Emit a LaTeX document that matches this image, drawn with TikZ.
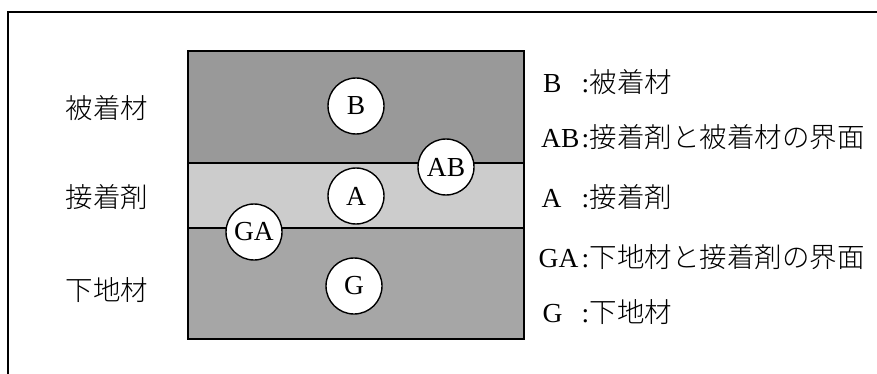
\documentclass[tikz,border=0pt]{standalone}
\usepackage{fontspec}
\setmainfont{Liberation Serif}
\newfontfamily\jp{Noto Sans CJK JP Light}
\definecolor{adherendgray}{HTML}{999999}
\definecolor{adhesivegray}{HTML}{CCCCCC}
\definecolor{substrategray}{HTML}{A6A6A6}
\begin{document}
\begin{tikzpicture}[x=1pt,y=-1pt,
  marker/.style={circle, draw, fill=white, line width=1.4pt, minimum size=56pt,
    inner sep=0pt, font=\fontsize{27.5}{27.5}\selectfont},
  side/.style={inner sep=0pt, font=\jp\fontsize{27.5}{27.5}\selectfont},
  key/.style={anchor=base west, inner sep=0pt, font=\fontsize{27.5}{27.5}\selectfont},
  desc/.style={anchor=base west, inner sep=0pt, font=\fontsize{27.5}{27.5}\selectfont},
  edge/.style={line width=1.3pt}]
\useasboundingbox (0,0) rectangle (877,374);
\fill[white] (0,0) rectangle (877,374);
% outer frame (only the left and top sides fall inside the page)
\draw[line width=2pt] (8,374) -- (8,12) -- (877,12);
% three layers
\fill[adherendgray]  (188,51)  rectangle (524,163);
\fill[adhesivegray]  (188,163) rectangle (524,228);
\fill[substrategray] (188,228) rectangle (524,339);
\draw[edge] (188,163) -- (524,163);
\draw[edge] (188,228) -- (524,228);
\draw[edge] (188,51) rectangle (524,339);
% point markers
\node[marker] (B)  at (356,106) {B};
\node[marker] (AB) at (446,167) {AB};
\node[marker] (A)  at (356,196) {A};
\node[marker] (GA) at (254,232) {GA};
\node[marker] (G)  at (354,286) {G};
% layer names
\node[side] (n1) at (107,108) {被着材};
\node[side] (n2) at (107,197) {接着剤};
\node[side] (n3) at (107,290) {下地材};
% legend
\node[key] (k1) at (543,93)  {B};
\node[key] (k2) at (541,148) {AB};
\node[key] (k3) at (541.5,207) {A};
\node[key] (k4) at (538.5,267) {GA};
\node[key] (k5) at (542.5,322) {G};
\node[desc] (d1) at (581.5,93)  {:\kern0.5pt{\jp 被着材}};
\node[desc] (d2) at (581.5,148) {:\kern0.5pt{\jp 接着剤と被着材の界面}};
\node[desc] (d3) at (581.5,207) {:\kern0.5pt{\jp 接着剤}};
\node[desc] (d4) at (581.5,267) {:\kern0.5pt{\jp 下地材と接着剤の界面}};
\node[desc] (d5) at (581.5,322) {:\kern0.5pt{\jp 下地材}};
\end{tikzpicture}
\end{document}
